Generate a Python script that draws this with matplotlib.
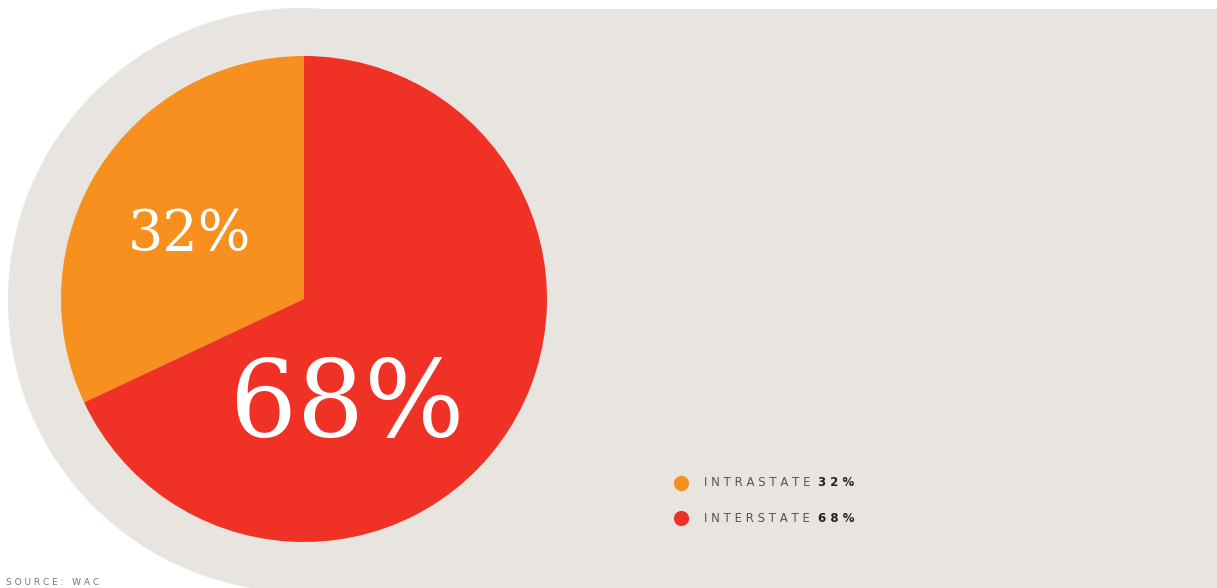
import matplotlib.pyplot as plt
from matplotlib.patches import Circle, Rectangle

# share of traffic
labels = ["INTRASTATE", "INTERSTATE"]
shares = [32, 68]
colors = ["#F7901E", "#F03125"]
source_note = "SOURCE: WAC"

W, H = 1217, 588
fig = plt.figure(figsize=(W / 100, H / 100), dpi=100)
ax = fig.add_axes([0, 0, 1, 1])

# rounded grey panel behind the pie
panel = "#E8E5E0"
ax.add_patch(Circle((300, 288), 292, color=panel, lw=0, zorder=0))
ax.add_patch(Rectangle((300, -10), W, 589, color=panel, lw=0, zorder=0))

wedges, _ = ax.pie(shares, colors=colors, startangle=90, counterclock=True,
                   center=(304, 289), radius=243,
                   wedgeprops=dict(linewidth=0))
for w in wedges:
    w.set_zorder(2)

# pie() resets the limits, so fix the pixel frame afterwards
ax.set_xlim(0, W)
ax.set_ylim(0, H)
ax.set_aspect("equal")
ax.axis("off")

# percentage labels inside the slices
ax.text(189, 588 - 235, f"{shares[0]}%", color="white", fontsize=40,
        family="DejaVu Serif", ha="center", va="center", zorder=3)
ax.text(347, 588 - 407, f"{shares[1]}%", color="white", fontsize=76,
        family="DejaVu Serif", ha="center", va="center", zorder=3)


def spaced(s):
    return " ".join(s)


# legend
for i, (lab, val, col) in enumerate(zip(labels, shares, colors)):
    y = 588 - (483 + 35 * i)
    ax.scatter([681], [y], s=120, color=col, lw=0, zorder=3)
    ax.text(704, y, spaced(lab), fontsize=8.5, color="#555555",
            family="DejaVu Sans", va="center", ha="left", zorder=3)
    ax.text(818, y, spaced(f"{val}%"), fontsize=8.5, color="#222222",
            family="DejaVu Sans", fontweight="bold", va="center", ha="left",
            zorder=3)

ax.text(6, 1, spaced(source_note), fontsize=6.5, color="#777777",
        family="DejaVu Sans", va="bottom", ha="left")

fig.savefig("out.png", dpi=100, facecolor="white")
